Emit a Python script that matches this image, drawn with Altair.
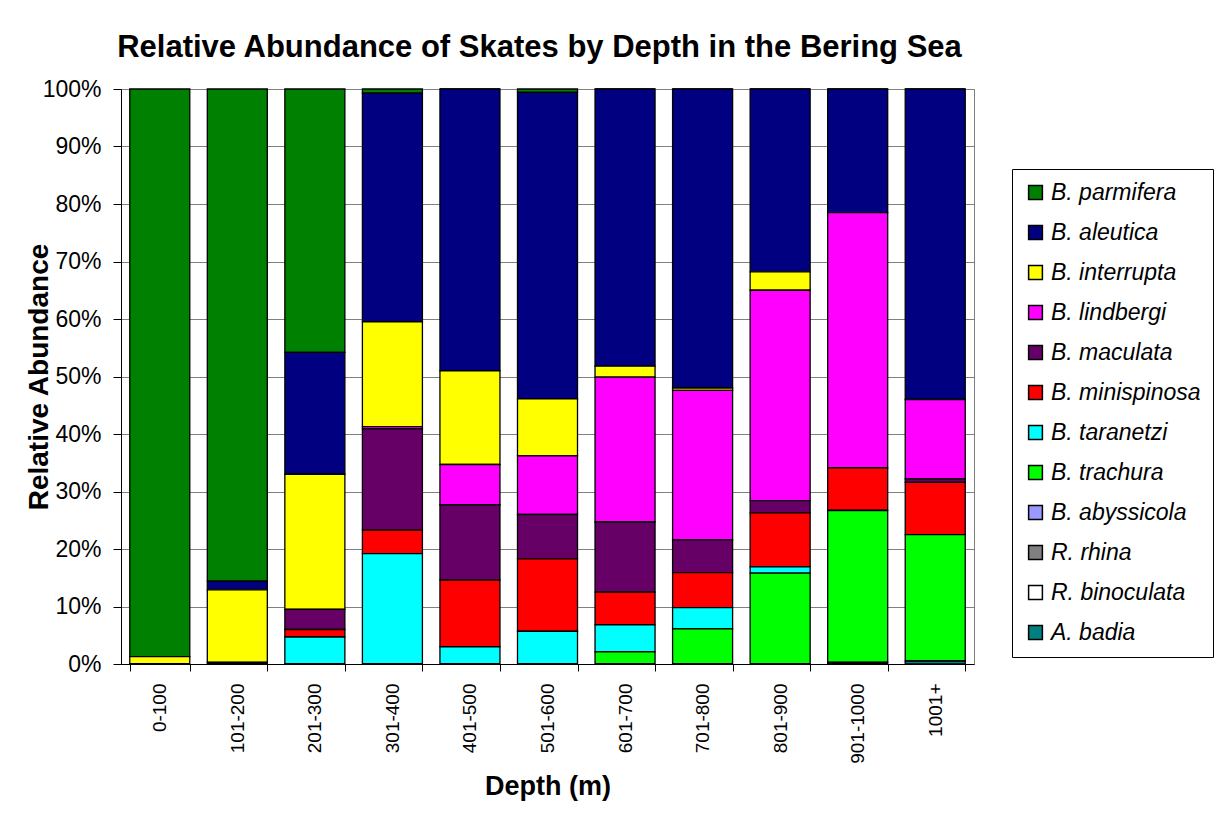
import altair as alt
import pandas as pd

depths = ["0-100", "101-200", "201-300", "301-400", "401-500", "501-600",
          "601-700", "701-800", "801-900", "901-1000", "1001+"]

# species in legend order (top of stack first)
species = ["B. parmifera", "B. aleutica", "B. interrupta", "B. lindbergi",
           "B. maculata", "B. minispinosa", "B. taranetzi", "B. trachura",
           "B. abyssicola", "R. rhina", "R. binoculata", "A. badia"]

colors = ["#008000", "#000080", "#FFFF00", "#FF00FF", "#660066", "#FF0000",
          "#00FFFF", "#00FF00", "#9999FF", "#808080", "#FFFFFF", "#008080"]

# relative abundance (%) per depth bin
parmifera   = [98.7, 85.6, 45.8, 0.7, 0.0, 0.6, 0.0, 0.0, 0.0, 0.0, 0.0]
aleutica    = [0.0, 1.5, 21.2, 39.8, 49.0, 53.3, 48.2, 52.0, 31.8, 21.5, 54.0]
interrupta  = [1.3, 12.6, 23.5, 18.2, 16.3, 9.9, 1.9, 0.4, 3.2, 0.0, 0.0]
lindbergi   = [0.0, 0.0, 0.0, 0.4, 7.0, 10.2, 25.2, 26.0, 36.6, 44.4, 13.8]
maculata    = [0.0, 0.3, 3.5, 17.6, 13.1, 7.7, 12.2, 5.7, 2.1, 0.0, 0.6]
minispinosa = [0.0, 0.0, 1.3, 4.1, 11.6, 12.6, 5.7, 6.1, 9.4, 7.4, 9.1]
taranetzi   = [0.0, 0.0, 4.7, 19.2, 3.0, 5.7, 4.7, 3.7, 1.1, 0.0, 0.0]
trachura    = [0.0, 0.0, 0.0, 0.0, 0.0, 0.0, 2.1, 6.1, 15.8, 26.4, 22.0]
abyssicola  = [0.0, 0.0, 0.0, 0.0, 0.0, 0.0, 0.0, 0.0, 0.0, 0.0, 0.0]
rhina       = [0.0, 0.0, 0.0, 0.0, 0.0, 0.0, 0.0, 0.0, 0.0, 0.3, 0.0]
binoculata  = [0.0, 0.0, 0.0, 0.0, 0.0, 0.0, 0.0, 0.0, 0.0, 0.0, 0.0]
badia       = [0.0, 0.0, 0.0, 0.0, 0.0, 0.0, 0.0, 0.0, 0.0, 0.0, 0.5]

series = [parmifera, aleutica, interrupta, lindbergi, maculata, minispinosa,
          taranetzi, trachura, abyssicola, rhina, binoculata, badia]

rows = []
for i, (name, vals) in enumerate(zip(species, series)):
    for d, v in zip(depths, vals):
        rows.append({"depth": d, "species": name, "value": v,
                     "stack": len(species) - i})
df = pd.DataFrame(rows)

chart = alt.Chart(df).mark_bar(stroke="black", strokeWidth=1.3).encode(
    x=alt.X("depth:N", sort=depths,
            scale=alt.Scale(paddingInner=0.226, paddingOuter=0.113),
            axis=alt.Axis(title="Depth (m)", labelAngle=270, labelAlign="right",
                          labelBaseline="middle", labelFontSize=19,
                          labelPadding=12, tickBand="extent", tickSize=7,
                          tickColor="black", domainColor="black",
                          titleFontSize=27, titleFontWeight="bold",
                          titlePadding=10, grid=False)),
    y=alt.Y("value:Q", stack="normalize",
            scale=alt.Scale(domain=[0, 1]),
            axis=alt.Axis(title="Relative Abundance", format=".0%",
                          values=[i / 10 for i in range(11)],
                          labelFontSize=23, tickSize=8, tickColor="black",
                          domainColor="black", labelPadding=12,
                          gridColor="#808080", gridWidth=1,
                          titleFontSize=28, titleFontWeight="bold",
                          titleX=-68)),
    color=alt.Color("species:N",
                    scale=alt.Scale(domain=species, range=colors),
                    legend=alt.Legend(title=None, orient="none",
                                      legendX=891, legendY=80,
                                      symbolType="square", symbolSize=190,
                                      symbolStrokeColor="black",
                                      symbolStrokeWidth=1.5,
                                      symbolOpacity=1,
                                      labelFontSize=23, labelFontStyle="italic",
                                      labelColor="black",
                                      rowPadding=16, padding=12,
                                      strokeColor="black")),
    order=alt.Order("stack:Q", sort="ascending"),
).properties(
    width=853, height=575,
    autosize=alt.AutoSizeParams(type="none"),
    padding={"left": 113, "top": 81, "right": 241, "bottom": 146},
    title=alt.TitleParams("Relative Abundance of Skates by Depth in the Bering Sea",
                          fontSize=31, fontWeight="bold", color="black",
                          anchor="middle", offset=14, dx=-8),
).configure(
    font="Liberation Sans",
).configure_view(
    stroke="#808080", strokeWidth=1,
).configure_axis(
    labelColor="black", titleColor="black", labelFont="Liberation Sans",
    titleFont="Liberation Sans",
)

chart.save("out.html", embed_options={"renderer": "svg", "actions": False})
